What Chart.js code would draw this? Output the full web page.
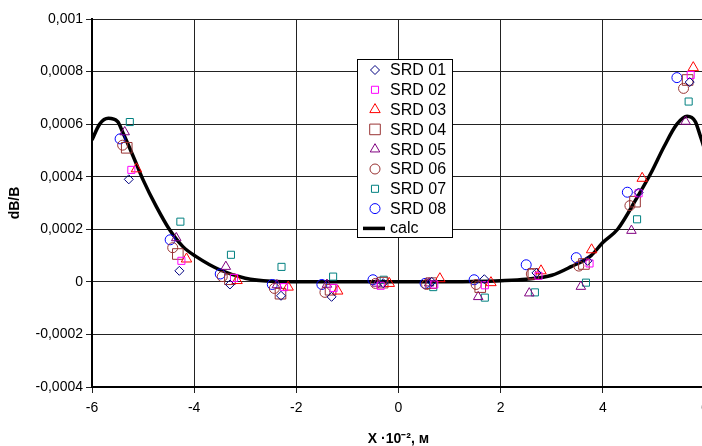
<!DOCTYPE html>
<html>
<head>
<meta charset="utf-8">
<script src="https://cdn.jsdelivr.net/npm/chart.js@4"></script>
<style>
  html, body { margin: 0; padding: 0; background: #fff; overflow: hidden; }
</style>
</head>
<body>
<canvas id="chart" width="720" height="446"></canvas>
<script>
// Axis ticks
const xTicks = [-6, -4, -2, 0, 2, 4, 6];
const yTicks = [-0.0004, -0.0002, 0, 0.0002, 0.0004, 0.0006, 0.0008, 0.001];

// Measured points (x in 10^-2 m, y = dB/B)
const srd01X = [-5.28, -4.29, -3.30, -2.30, -1.31, -0.30, 0.65, 1.68, 2.70, 3.70, 4.70, 5.70];
const srd01Y = [0.00039, 0.000042, -0.00001, -0.000053, -0.000057, -0.000005, 0, 0.00001, 0.000034, 0.00008, 0.00034, 0.00076];

const srd02X = [-5.23, -4.25, -3.22, -2.24, -1.27, -0.35, 0.70, 1.69, 2.74, 3.74, 4.70, 5.72];
const srd02Y = [0.000426, 0.00008, 0.000015, -0.00002, -0.000023, -0.000015, -0.00001, -0.000013, 0.000023, 0.00007, 0.000337, 0.000787];

const srd03X = [-5.13, -4.15, -3.16, -2.16, -1.19, -0.18, 0.81, 1.81, 2.79, 3.78, 4.77, 5.77];
const srd03Y = [0.00043, 0.000087, 0.000005, -0.00002, -0.000035, -0.000006, 0.000012, -0.000003, 0.000042, 0.000122, 0.000394, 0.000815];

const srd04X = [-5.32, -4.32, -3.30, -2.31, -1.33, -0.31, 0.64, 1.60, 2.64, 3.63, 4.63, 5.66];
const srd04Y = [0.00051, 0.000106, 0.00001, -0.000045, -0.00003, -0.000003, -0.000005, -0.00002, 0.00003, 0.000068, 0.000305, 0.000768];

const srd05X = [-5.36, -4.35, -3.38, -2.38, -1.40, -0.42, 0.60, 1.56, 2.56, 3.57, 4.56, 5.62];
const srd05Y = [0.00057, 0.000167, 0.000058, -0.000012, -0.00001, -0.000006, -0.000005, -0.000057, -0.000043, -0.000018, 0.000195, 0.00061];

const srd06X = [-5.40, -4.42, -3.45, -2.43, -1.44, -0.45, 0.55, 1.52, 2.60, 3.53, 4.53, 5.58];
const srd06Y = [0.00052, 0.00013, 0.00002, -0.000025, -0.00004, -0.000006, -0.00001, -0.00001, 0.00003, 0.00006, 0.00029, 0.000736];

const srd07X = [-5.26, -4.27, -3.28, -2.29, -1.28, -0.29, 0.68, 1.69, 2.67, 3.67, 4.67, 5.68];
const srd07Y = [0.000608, 0.000229, 0.000103, 0.000057, 0.00002, 0.000008, -0.00002, -0.00006, -0.00004, -0.000003, 0.000238, 0.000686];

const srd08X = [-5.45, -4.47, -3.49, -2.47, -1.50, -0.50, 0.52, 1.48, 2.50, 3.48, 4.48, 5.45];
const srd08Y = [0.000544, 0.00016, 0.00003, -0.00001, -0.00001, 0.000008, -0.000006, 0.000008, 0.000065, 0.000092, 0.000341, 0.000777];

// Calculated curve
const calcX = [-6, -5.85, -5.68, -5.5, -5.39, -5.19, -5.0, -4.74, -4.48, -4.22, -3.96, -3.5, -3.0, -2.5, -2, -1, 0, 1, 1.5, 2, 2.5, 3, 3.38, 3.77, 4.0, 4.29, 4.68, 4.94, 5.2, 5.45, 5.65, 5.81, 5.9, 6];
const calcY = [0.00054, 0.0006, 0.000622, 0.00061, 0.000565, 0.000476, 0.000388, 0.000286, 0.000198, 0.000134, 0.000096, 0.000046, 0.000014, 0.000002, 0, 0, 0, 0, 0.000001, 0.000004, 0.00001, 0.000025, 0.000058, 0.0001, 0.00015, 0.0002, 0.000324, 0.000413, 0.000515, 0.0006, 0.00063, 0.00061, 0.00056, 0.0005];

const seriesNames = ['SRD 01', 'SRD 02', 'SRD 03', 'SRD 04', 'SRD 05', 'SRD 06', 'SRD 07', 'SRD 08'];
const seriesX = [srd01X, srd02X, srd03X, srd04X, srd05X, srd06X, srd07X, srd08X];
const seriesY = [srd01Y, srd02Y, srd03Y, srd04Y, srd05Y, srd06Y, srd07Y, srd08Y];

// marker look for each series
const markers = [
  { color: '#000080', shape: 'rectRot', r: 4.5 },
  { color: '#FF00FF', shape: 'rect', r: 5 },
  { color: '#FF0000', shape: 'triangle', r: 6 },
  { color: '#993333', shape: 'rect', r: 7.5 },
  { color: '#800080', shape: 'triangle', r: 5.5 },
  { color: '#993333', shape: 'circle', r: 5 },
  { color: '#008080', shape: 'rect', r: 5 },
  { color: '#0000FF', shape: 'circle', r: 5 }
];

const FONT = '"Liberation Sans", Arial, sans-serif';

function toPoints(xs, ys) {
  return xs.map((x, i) => ({ x, y: ys[i] }));
}

function fmt(v) {
  if (Math.abs(v) < 1e-12) return '0';
  return String(+v.toFixed(4)).replace('.', ',');
}

const datasets = seriesNames.map((name, i) => ({
  label: name,
  data: toPoints(seriesX[i], seriesY[i]),
  showLine: false,
  pointStyle: markers[i].shape,
  pointRadius: markers[i].r,
  pointBorderWidth: 1,
  borderColor: markers[i].color,
  backgroundColor: 'rgba(0,0,0,0)'
}));

datasets.push({
  label: 'calc',
  data: toPoints(calcX, calcY),
  showLine: true,
  pointRadius: 0,
  borderColor: '#000',
  borderWidth: 3.5,
  cubicInterpolationMode: 'monotone'
});

function drawMarker(ctx, shape, x, y, r) {
  ctx.beginPath();
  if (shape === 'circle') {
    ctx.arc(x, y, r, 0, Math.PI * 2);
  } else if (shape === 'rect') {
    const s = r * Math.SQRT1_2;
    ctx.rect(x - s, y - s, 2 * s, 2 * s);
  } else if (shape === 'rectRot') {
    ctx.moveTo(x - r, y); ctx.lineTo(x, y - r); ctx.lineTo(x + r, y); ctx.lineTo(x, y + r);
    ctx.closePath();
  } else if (shape === 'triangle') {
    let a = 0;
    ctx.moveTo(x + Math.sin(a) * r, y - Math.cos(a) * r);
    a += Math.PI * 2 / 3;
    ctx.lineTo(x + Math.sin(a) * r, y - Math.cos(a) * r);
    a += Math.PI * 2 / 3;
    ctx.lineTo(x + Math.sin(a) * r, y - Math.cos(a) * r);
    ctx.closePath();
  }
  ctx.stroke();
}

// Legend box drawn inside the plot, like the original
const boxLegend = {
  id: 'boxLegend',
  afterDraw(chart) {
    const ctx = chart.ctx;
    const left = 357, top = 59, w = 95, h = 178, rowH = 19.8;
    ctx.save();
    ctx.fillStyle = '#fff';
    ctx.fillRect(left, top, w, h);
    ctx.strokeStyle = '#000';
    ctx.lineWidth = 1;
    ctx.strokeRect(left + 0.5, top + 0.5, w, h);
    ctx.font = '16px ' + FONT;
    ctx.textBaseline = 'middle';
    ctx.textAlign = 'left';
    seriesNames.forEach((name, i) => {
      const y = top + 11 + i * rowH;
      ctx.strokeStyle = markers[i].color;
      ctx.lineWidth = 1;
      drawMarker(ctx, markers[i].shape, left + 18, y, markers[i].r);
      ctx.fillStyle = '#000';
      ctx.fillText(name, left + 33, y + 1);
    });
    const yc = top + 11 + 8 * rowH;
    ctx.strokeStyle = '#000';
    ctx.lineWidth = 3.5;
    ctx.beginPath();
    ctx.moveTo(left + 6, yc);
    ctx.lineTo(left + 28, yc);
    ctx.stroke();
    ctx.fillStyle = '#000';
    ctx.fillText('calc', left + 33, yc);
    ctx.restore();
  }
};

new Chart(document.getElementById('chart'), {
  type: 'scatter',
  data: { datasets },
  options: {
    responsive: false,
    animation: false,
    devicePixelRatio: 1,
    layout: { padding: { top: 19, right: 15, left: 0, bottom: 0 } },
    plugins: { legend: { display: false }, tooltip: { enabled: false } },
    scales: {
      x: {
        type: 'linear',
        min: -6,
        max: 6,
        afterBuildTicks: (s) => { s.ticks = xTicks.map(v => ({ value: v })); },
        afterFit: (s) => { s.height = 59; },
        ticks: { color: '#000', font: { family: FONT, size: 14 }, padding: 7, maxRotation: 0 },
        grid: { color: '#222', lineWidth: 1, tickLength: 6 },
        border: { color: '#000', width: 2 },
        title: {
          display: true,
          text: 'X ·10⁻², м',
          color: '#000',
          font: { family: FONT, size: 14, weight: 'bold', lineHeight: 1 },
          padding: { top: 0, bottom: 0 }
        }
      },
      y: {
        type: 'linear',
        min: -0.0004,
        max: 0.001,
        afterBuildTicks: (s) => { s.ticks = yTicks.map(v => ({ value: v })); },
        afterFit: (s) => { s.width = 92; },
        ticks: { color: '#000', font: { family: FONT, size: 14 }, padding: 3, callback: (v) => fmt(v) },
        grid: { color: '#222', lineWidth: 1, tickLength: 6 },
        border: { color: '#000', width: 2 },
        title: {
          display: true,
          text: 'dB/B',
          color: '#000',
          font: { family: FONT, size: 14, weight: 'bold' },
          padding: { top: 7, bottom: 0 }
        }
      }
    }
  },
  plugins: [boxLegend]
});
</script>
</body>
</html>
